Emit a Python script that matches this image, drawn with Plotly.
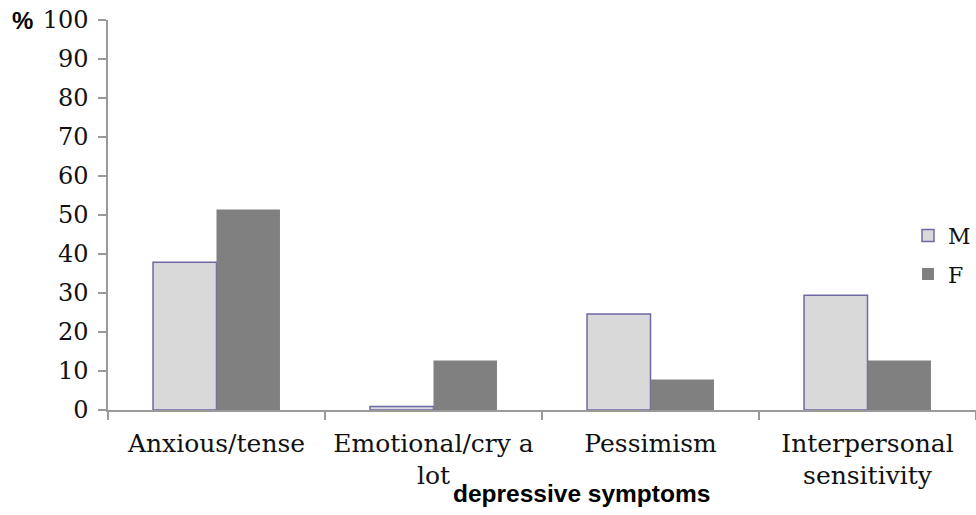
import plotly.graph_objects as go

# Depressive symptoms by sex (% of respondents)
categories = ["Anxious/tense", "Emotional/cry a<br>lot", "Pessimism", "Interpersonal<br>sensitivity"]
male_pct = [37.9, 0.9, 24.6, 29.4]
female_pct = [51.4, 12.7, 7.8, 12.7]
y_ticks = list(range(0, 101, 10))

serif = "DejaVu Serif"
sans = "Liberation Sans"

fig = go.Figure()
fig.add_trace(go.Bar(
    x=categories, y=male_pct, name="M",
    marker=dict(color="#D9D9D9", line=dict(color="#6E6AA6", width=1.5)),
    legendgroup="m",
))
fig.add_trace(go.Bar(
    x=categories, y=female_pct, name="F",
    marker=dict(color="#808080", line=dict(color="#808080", width=0)),
    legendgroup="f",
))

fig.update_layout(
    width=976, height=515,
    margin=dict(l=108, r=0, t=20, b=105),
    paper_bgcolor="white", plot_bgcolor="white",
    barmode="group", bargap=0.415, bargroupgap=0,
    showlegend=True,
    legend=dict(
        x=1.0, y=0.397, xanchor="right", yanchor="middle",
        font=dict(family=serif, size=22, color="#111"),
        traceorder="grouped", tracegroupgap=7,
        itemwidth=30, bgcolor="rgba(0,0,0,0)",
    ),
    font=dict(family=serif, color="#111"),
)

fig.update_xaxes(
    type="category", range=[-0.5, 3.5],
    showline=True, linecolor="#9A9A9A", linewidth=1.5,
    ticks="outside", tickson="boundaries", ticklen=8, tickcolor="#9A9A9A", tickwidth=1.5,
    ticklabelstandoff=10,
    tickfont=dict(family=serif, size=25, color="#111"),
    showgrid=False, zeroline=False,
)
fig.update_yaxes(
    range=[0, 100], tickvals=y_ticks,
    showline=True, linecolor="#9A9A9A", linewidth=1.5,
    ticks="outside", ticklen=8, tickcolor="#9A9A9A", tickwidth=1.5,
    ticklabelstandoff=5,
    tickfont=dict(family=serif, size=24, color="#111"),
    showgrid=False, zeroline=False,
)

# x-axis title
fig.add_annotation(
    text="<b>depressive symptoms</b>", xref="paper", yref="paper", x=0.545, y=-0.214,
    xanchor="center", yanchor="middle", showarrow=False,
    font=dict(family=sans, size=24.5, color="#000"),
)
# y-axis unit label
fig.add_annotation(
    text="<b>%</b>", xref="paper", yref="paper", x=-0.113, y=1.0,
    xanchor="left", yanchor="middle", showarrow=False,
    font=dict(family=sans, size=24, color="#000"),
)

fig.write_html("out.html")
